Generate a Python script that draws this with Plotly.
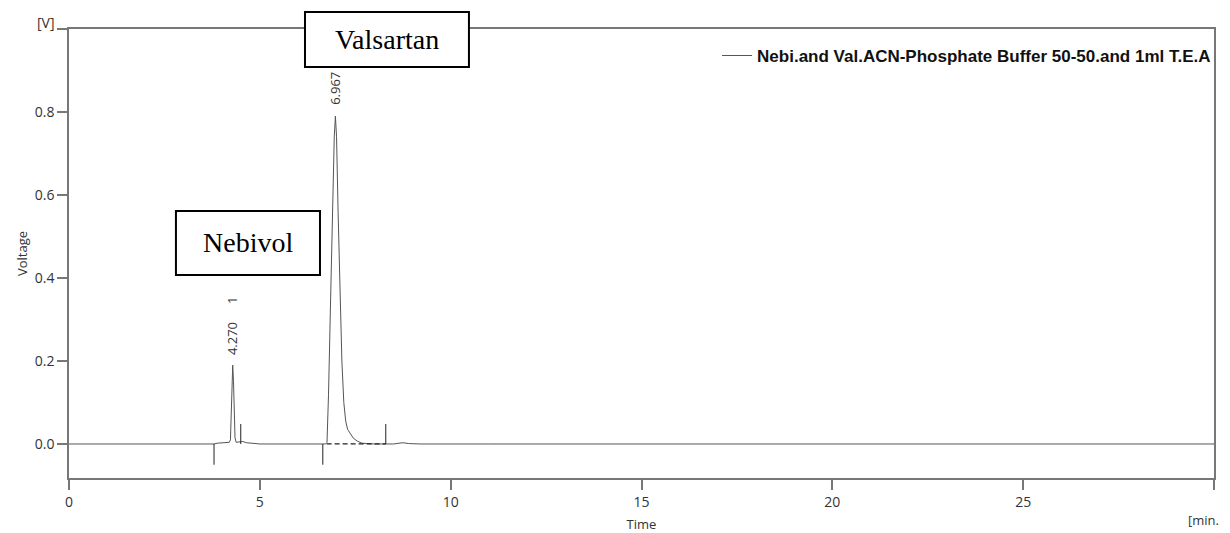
import plotly.graph_objects as go

# Chromatogram trace (time in min, voltage in V)
time = [0.0, 2.0, 3.80, 3.90, 4.10, 4.20, 4.23, 4.25, 4.27, 4.29, 4.31, 4.33, 4.35, 4.38,
        4.45, 4.55, 4.65, 4.80, 5.0, 6.0, 6.72, 6.76, 6.80, 6.85, 6.90, 6.95, 6.98, 7.01,
        7.05, 7.10, 7.15, 7.20, 7.25, 7.30, 7.37, 7.45, 7.55, 7.67, 7.80, 8.00, 8.50,
        8.65, 8.75, 8.90, 9.2, 11.0, 20.0, 30.0]
voltage = [0.0, 0.0, 0.0, 0.002, 0.003, 0.004, 0.01, 0.07, 0.15, 0.19, 0.15, 0.07, 0.015,
           0.004, 0.005, 0.006, 0.003, 0.001, 0.0, 0.0, 0.0, 0.004, 0.12, 0.33, 0.55, 0.74,
           0.79, 0.74, 0.56, 0.36, 0.20, 0.10, 0.055, 0.035, 0.024, 0.014, 0.007, 0.002,
           0.001, 0.0, 0.0, 0.002, 0.003, 0.001, 0.0, 0.0, 0.0, 0.0]

# integration event markers: (time, end voltage)
marker_t = [3.80, 4.50, 6.65, 8.30]
marker_v = [-0.05, 0.048, -0.05, 0.048]
# dashed baseline under peak 2
base_t = [6.75, 8.30]
base_v = [0.0, 0.0]

# peak labels
peak_t = [4.27, 6.967]
peak_lbl = ["4.270", "6.967"]
peak_lbl_y = [0.255, 0.858]

x_ticks = [0, 5, 10, 15, 20, 25, 30]
x_ticktext = ["0", "5", "10", "15", "20", "25", ""]
y_ticks = [0.0, 0.2, 0.4, 0.6, 0.8, 1.0]
y_ticktext = ["0.0", "0.2", "0.4", "0.6", "0.8", ""]

legend_name = "<b>Nebi.and Val.ACN-Phosphate Buffer 50-50.and 1ml T.E.A</b>"

TXT = "#333333"
SANS = "Open Sans, Arial"

fig = go.Figure()
fig.add_trace(go.Scatter(x=time, y=voltage, mode="lines", name=legend_name,
                         line=dict(color="#555555", width=1)))
for t, v in zip(marker_t, marker_v):
    fig.add_trace(go.Scatter(x=[t, t], y=[0, v], mode="lines", showlegend=False,
                             line=dict(color="#222222", width=1), hoverinfo="skip"))
fig.add_trace(go.Scatter(x=base_t, y=base_v, mode="lines", showlegend=False,
                         line=dict(color="#222222", width=1.3, dash="5px,3px"), hoverinfo="skip"))

for t, lbl, ly in zip(peak_t, peak_lbl, peak_lbl_y):
    fig.add_annotation(x=t, y=ly, xref="x", yref="y", text=lbl, showarrow=False,
                       textangle=-90, font=dict(family=SANS, size=13, color=TXT))
fig.add_annotation(x=4.27, y=0.347, xref="x", yref="y", text="1", showarrow=False,
                   textangle=-90, font=dict(family=SANS, size=13, color=TXT))

# compound label boxes
boxes = [("Valsartan", 0.2061, 0.3493, 0.9154, 1.0379),
         ("Nebivol", 0.0934, 0.2192, 0.4521, 0.5947)]
for txt, x0, x1, y0, y1 in boxes:
    fig.add_shape(type="rect", xref="paper", yref="paper", x0=x0, x1=x1, y0=y0, y1=y1,
                  line=dict(color="black", width=2), fillcolor="white", layer="above")
    fig.add_annotation(x=(x0 + x1) / 2, y=(y0 + y1) / 2, xref="paper", yref="paper",
                       xanchor="center", yanchor="middle",
                       text=txt, showarrow=False,
                       font=dict(family="Liberation Serif, Times New Roman", size=28, color="black"))

fig.add_annotation(x=0, y=1.0, xref="paper", yref="paper", text="[V]", showarrow=False,
                   xanchor="right", yanchor="middle", xshift=-12, yshift=7,
                   font=dict(family=SANS, size=14, color=TXT))
fig.add_annotation(x=1.0, y=-0.094, xref="paper", yref="paper", text="[min.", showarrow=False,
                   xanchor="right", yanchor="middle", xshift=7,
                   font=dict(family=SANS, size=13, color=TXT))

axis_common = dict(showline=True, linecolor="#777777", linewidth=1.5, mirror=True,
                   showgrid=False, zeroline=False, ticks="outside", tickcolor="#777777",
                   ticklen=10, tickwidth=1.5, automargin=False,
                   tickfont=dict(family=SANS, size=14, color=TXT))

fig.update_layout(
    width=1222, height=525,
    margin=dict(l=61, r=16, t=21, b=55),
    paper_bgcolor="white", plot_bgcolor="white",
    font=dict(family="Liberation Sans, Arial"),
    xaxis=dict(range=[0, 30], tickvals=x_ticks, ticktext=x_ticktext,
               title=dict(text="Time", font=dict(family=SANS, size=13, color=TXT),
                          standoff=15),
               **axis_common),
    yaxis=dict(range=[-0.082, 1.0], tickvals=y_ticks, ticktext=y_ticktext,
               title=dict(text="Voltage", font=dict(family=SANS, size=13, color=TXT),
                          standoff=4),
               **axis_common),
    legend=dict(x=0.566, y=0.94, xanchor="left", yanchor="middle", bgcolor="rgba(0,0,0,0)",
                font=dict(family="Liberation Sans, Arial", size=17, color="#111"),
                itemwidth=30),
    showlegend=True,
)

fig.write_html("out.html")
